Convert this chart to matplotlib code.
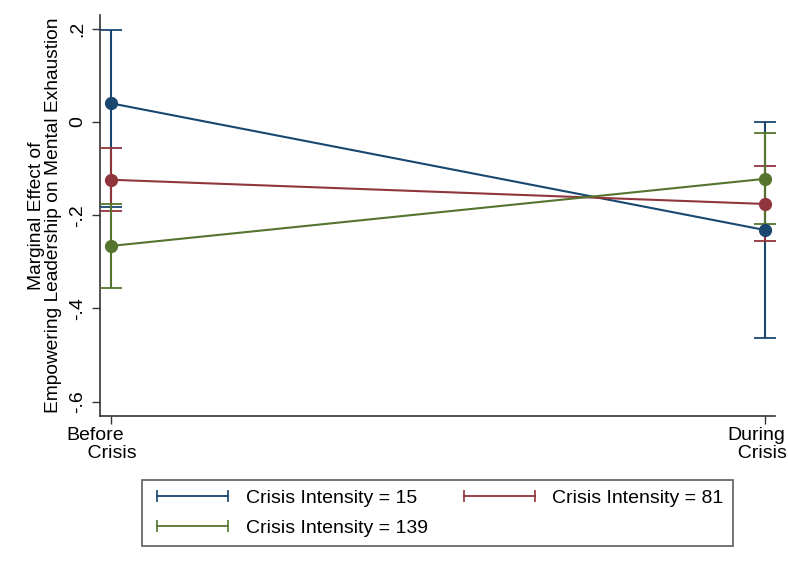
import matplotlib
matplotlib.use("Agg")
import matplotlib.pyplot as plt
import matplotlib.transforms as mtransforms
from matplotlib.lines import Line2D

plt.rcParams['font.family'] = ['Liberation Sans', 'DejaVu Sans']

# Data
periods = ["Before", "During"]
period_suffix = "Crisis"
series_labels = ["Crisis Intensity = 15", "Crisis Intensity = 81", "Crisis Intensity = 139"]
colors = ["#1a476f", "#90353b", "#55752f"]

est_15 = [0.040, -0.232]
lo_15 = [-0.183, -0.464]
hi_15 = [0.198, 0.000]

est_81 = [-0.124, -0.176]
lo_81 = [-0.192, -0.255]
hi_81 = [-0.056, -0.094]

est_139 = [-0.266, -0.122]
lo_139 = [-0.356, -0.220]
hi_139 = [-0.176, -0.024]

yticks = [0.2, 0.0, -0.2, -0.4, -0.6]
ytick_labels = [".2", "0", "-.2", "-.4", "-.6"]

fig = plt.figure(figsize=(7.88, 5.70), dpi=100)
ax = fig.add_axes([0.127, 0.2702, 0.8565, 0.7035])

xs = list(range(len(periods)))
all_series = [(est_15, lo_15, hi_15), (est_81, lo_81, hi_81), (est_139, lo_139, hi_139)]
for (est, lo, hi), c in zip(all_series, colors):
    yerr = [[e - l for e, l in zip(est, lo)], [h - e for e, h in zip(est, hi)]]
    ax.errorbar(xs, est, yerr=yerr, color=c, lw=1.5, elinewidth=1.5,
                capsize=8, capthick=1.3, marker='o', markersize=8.5, zorder=3)

ax.set_xlim(-0.017, 1.015)
ax.set_ylim(-0.631, 0.2296)
ax.set_xticks(xs)
ax.set_xticklabels([""] * len(xs))

# x tick labels drawn as text, anchored to the tick positions
indents = ["    ", "  "]
offsets_px = [-9.5, -8]
base = mtransforms.blended_transform_factory(ax.transData, ax.transAxes)
for x, p, ind, off in zip(xs, periods, indents, offsets_px):
    tr = base + mtransforms.ScaledTranslation(off / 100.0, -11 / 100.0, fig.dpi_scale_trans)
    ax.text(x, 0, p + "\n" + ind + period_suffix, transform=tr, ha='center', va='top',
            fontsize=14, multialignment='left', linespacing=1.08, clip_on=False)

ax.set_yticks(yticks)
ax.set_yticklabels(ytick_labels, fontsize=14, rotation=90, va='center')
ax.tick_params(direction='out', length=6, width=1, colors='#333333', labelcolor='black', pad=4)
for s in ['top', 'right']:
    ax.spines[s].set_visible(False)
for s in ['left', 'bottom']:
    ax.spines[s].set_color('#333333')
    ax.spines[s].set_linewidth(1.2)
ax.set_ylabel("Marginal Effect of\nEmpowering Leadership on Mental Exhaustion",
              fontsize=13.8, labelpad=5, linespacing=1.05)

handles = [Line2D([], [], color=c, lw=1.3, marker='|', markersize=8, markeredgewidth=1.2)
           for c in colors]
order = [0, 2, 1]
leg = fig.legend([handles[i] for i in order], [series_labels[i] for i in order],
                 loc='upper center', bbox_to_anchor=(0.555, 0.158),
                 ncol=2, numpoints=2, fontsize=14, frameon=True, fancybox=False,
                 handlelength=4.25, handletextpad=0.6, columnspacing=1.55,
                 labelspacing=0.6, borderpad=0.5, borderaxespad=0)
leg.get_frame().set_edgecolor('#333333')
leg.get_frame().set_linewidth(1.2)

fig.savefig("out.png", dpi=100)
